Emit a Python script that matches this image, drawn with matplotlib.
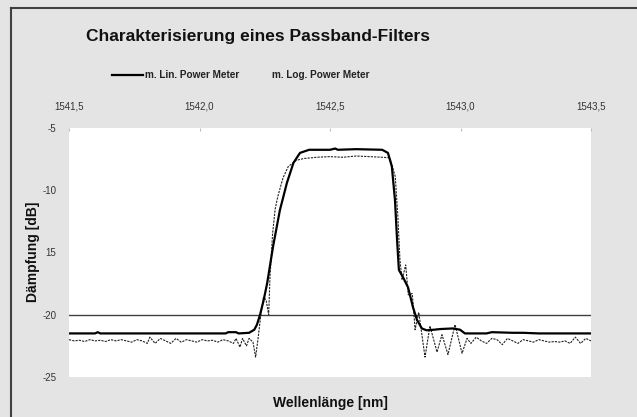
import matplotlib
matplotlib.use('Agg')
import matplotlib.pyplot as plt
from matplotlib.lines import Line2D

plt.rcParams['font.family'] = ['Liberation Sans', 'DejaVu Sans']

# Achsen
x_ticks = [1541.5, 1542.0, 1542.5, 1543.0, 1543.5]
x_tick_labels = ['1541,5', '1542,0', '1542,5', '1543,0', '1543,5']
y_ticks = [-5, -10, -15, -20, -25]
y_tick_labels = ['-5', '-10', '15', '-20', '-25']
ref_level = -20

# m. Lin. Power Meter (durchgezogen)
lin_x = [1541.50, 1541.60, 1541.61, 1541.62, 1541.80, 1542.00, 1542.10, 1542.11,
         1542.14, 1542.15, 1542.19, 1542.21, 1542.22, 1542.232, 1542.245, 1542.259,
         1542.282, 1542.308, 1542.335, 1542.36, 1542.385, 1542.42, 1542.50, 1542.52,
         1542.53, 1542.60, 1542.70, 1542.722, 1542.737, 1542.749, 1542.757, 1542.764,
         1542.78, 1542.799, 1542.818, 1542.833, 1542.852, 1542.87, 1542.90, 1542.921,
         1542.971, 1542.998, 1543.017, 1543.10, 1543.12, 1543.20, 1543.24, 1543.30,
         1543.50]
lin_y = [-21.5, -21.5, -21.4, -21.5, -21.5, -21.5, -21.5, -21.4,
         -21.4, -21.5, -21.45, -21.2, -20.8, -20.0, -18.9, -17.5,
         -14.5, -11.6, -9.4, -7.8, -7.0, -6.75, -6.75, -6.65,
         -6.75, -6.7, -6.75, -7.0, -8.1, -10.8, -14.0, -16.4,
         -17.0, -17.8, -19.4, -20.4, -21.1, -21.25, -21.2, -21.15,
         -21.1, -21.2, -21.5, -21.5, -21.4, -21.45, -21.45, -21.5,
         -21.5]

# m. Log. Power Meter (gepunktet)
log_x = [1541.50, 1541.52, 1541.54, 1541.56, 1541.58, 1541.60, 1541.62, 1541.64,
         1541.66, 1541.68, 1541.70, 1541.72, 1541.74, 1541.76, 1541.78, 1541.80,
         1541.81, 1541.83, 1541.85, 1541.87, 1541.89, 1541.91, 1541.93, 1541.95,
         1541.97, 1541.99, 1542.01, 1542.03, 1542.05, 1542.07, 1542.09, 1542.11,
         1542.13, 1542.14, 1542.155, 1542.165, 1542.18, 1542.19, 1542.205, 1542.215,
         1542.225, 1542.235, 1542.245, 1542.255, 1542.265, 1542.27, 1542.28, 1542.29,
         1542.30, 1542.32, 1542.34, 1542.37, 1542.40, 1542.45, 1542.50, 1542.55,
         1542.60, 1542.65, 1542.70, 1542.73, 1542.75, 1542.76, 1542.768, 1542.776,
         1542.79, 1542.80, 1542.815, 1542.82, 1542.826, 1542.84, 1542.864, 1542.883,
         1542.91, 1542.929, 1542.952, 1542.979, 1543.006, 1543.025, 1543.04, 1543.06,
         1543.08, 1543.10, 1543.12, 1543.14, 1543.16, 1543.18, 1543.20, 1543.22,
         1543.24, 1543.26, 1543.28, 1543.30, 1543.32, 1543.34, 1543.36, 1543.38,
         1543.40, 1543.42, 1543.44, 1543.46, 1543.48, 1543.50]
log_y = [-22.0, -22.1, -22.05, -22.15, -22.0, -22.1, -22.05, -22.15,
         -22.0, -22.1, -22.0, -22.1, -22.2, -22.0, -22.1, -22.3,
         -21.8, -22.3, -21.9, -22.1, -22.3, -21.9, -22.2, -22.0,
         -22.1, -22.2, -22.0, -22.1, -22.05, -22.2, -22.0, -22.1,
         -22.3, -21.9, -22.6, -21.9, -22.5, -21.9, -22.2, -23.4,
         -21.8, -20.0, -18.6, -18.8, -20.0, -17.0, -13.5, -11.5,
         -10.5, -9.0, -8.1, -7.6, -7.45, -7.35, -7.3, -7.35,
         -7.25, -7.3, -7.35, -7.4, -8.9, -12.1, -15.6, -17.2,
         -16.0, -18.4, -18.3, -19.5, -21.2, -19.8, -23.4, -20.9,
         -23.0, -21.6, -23.2, -20.8, -23.1, -21.9, -22.3, -21.8,
         -22.1, -22.3, -21.9, -22.0, -22.4, -21.9, -22.1, -22.3,
         -22.0, -22.1, -22.2, -22.0, -22.1, -22.2, -22.15, -22.2,
         -22.1, -22.3, -21.8, -22.3, -21.9, -22.1]

fig = plt.figure(figsize=(6.37, 4.17), dpi=100, facecolor='#e4e4e4')
ax = fig.add_axes([69 / 637, 1 - 377 / 417, 522 / 637, 249 / 417])
ax.set_facecolor('white')

ax.axhline(ref_level, color='#404040', linewidth=1.0, zorder=1)
ax.plot(log_x, log_y, color='#222222', linewidth=0.8, linestyle=(0, (2, 1)), zorder=2)
ax.plot(lin_x, lin_y, color='black', linewidth=1.6, zorder=3)

ax.set_xlim(1541.5, 1543.5)
ax.set_ylim(-25, -5)
ax.set_xticks(x_ticks)
ax.set_xticklabels(x_tick_labels)
ax.set_yticks(y_ticks)
ax.set_yticklabels(y_tick_labels)
ax.xaxis.tick_top()
ax.tick_params(axis='x', direction='in', length=2, color='#bbbbbb', pad=12,
               labelsize=7, labelcolor='#333333')
ax.tick_params(axis='y', length=0, pad=9, labelsize=7, labelcolor='#333333')
for s in ax.spines.values():
    s.set_visible(False)

fig.text(258 / 637, 1 - 37 / 417, 'Charakterisierung eines Passband-Filters',
         ha='center', va='center', fontsize=12.5, fontweight='bold', color='#111111')
fig.text(33 / 637, 1 - 252 / 417, 'Dämpfung [dB]', rotation=90, ha='center',
         va='center', fontsize=10, fontweight='bold', color='#111111')
fig.text(330 / 637, 1 - 403 / 417, 'Wellenlänge [nm]', ha='center', va='center',
         fontsize=10, fontweight='bold', color='#111111')

# Legende
fig.add_artist(Line2D([112 / 637, 143 / 637], [1 - 75 / 417, 1 - 75 / 417],
                      color='black', linewidth=1.6))
fig.text(145 / 637, 1 - 75 / 417, 'm. Lin. Power Meter', ha='left', va='center',
         fontsize=7.2, fontweight='bold', color='#222222')
fig.text(272 / 637, 1 - 75 / 417, 'm. Log. Power Meter', ha='left', va='center',
         fontsize=7.2, fontweight='bold', color='#222222')

# Rahmen
fig.add_artist(Line2D([11 / 637, 11 / 637], [0, 1 - 8 / 417], color='#404040', linewidth=1.5))
fig.add_artist(Line2D([11 / 637, 1], [1 - 8 / 417, 1 - 8 / 417], color='#404040', linewidth=1.5))

fig.savefig('out.png', dpi=100, facecolor=fig.get_facecolor())
